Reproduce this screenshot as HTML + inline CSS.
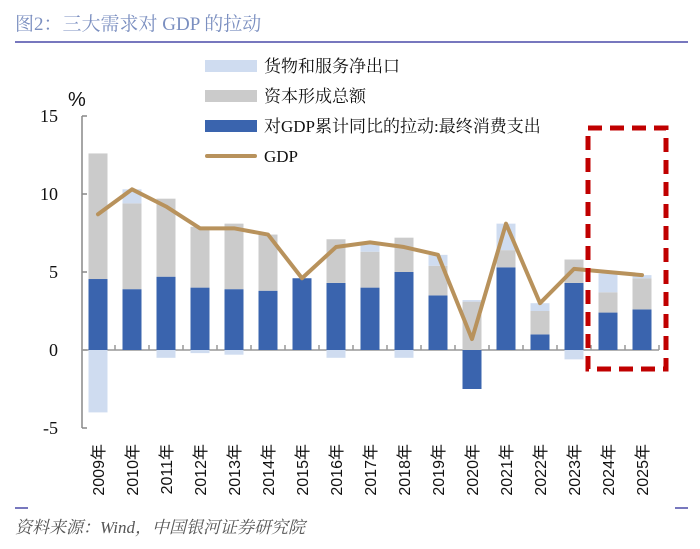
<!DOCTYPE html>
<html><head><meta charset="utf-8"><style>
body{margin:0;background:#fff;}
svg{display:block;}
</style></head><body>
<svg id="chart" width="700" height="549" viewBox="0 0 700 549" xmlns="http://www.w3.org/2000/svg">
<text x="15" y="30" font-family="'Liberation Serif','Noto Serif CJK SC',serif" font-size="19" fill="#7b8fc0">图2：三大需求对 GDP 的拉动</text>
<line x1="15" y1="42" x2="688" y2="42" stroke="#4a4aa8" stroke-width="1.5"/>
<g id="legend" font-family="'Liberation Serif','Noto Serif CJK SC',serif" font-size="17" fill="#111">
<rect x="205" y="60" width="52" height="12" fill="#cfdcf0"/>
<text x="264" y="72">货物和服务净出口</text>
<rect x="205" y="90" width="52" height="12" fill="#cbcbcb"/>
<text x="264" y="102">资本形成总额</text>
<rect x="205" y="120" width="52" height="12" fill="#3a64ae"/>
<text x="264" y="132">对GDP累计同比的拉动:最终消费支出</text>
<line x1="207" y1="156" x2="255" y2="156" stroke="#b8925c" stroke-width="4" stroke-linecap="round"/>
<text x="264" y="162">GDP</text>
</g>
<g id="axes" font-family="'Liberation Serif',serif" font-size="18" fill="#111"></g>
<g id="bars"></g>
<g id="line"></g>
<rect x="588" y="128" width="78" height="241" fill="none" stroke="#c00000" stroke-width="5" stroke-dasharray="14 8"/>
<line x1="15" y1="508" x2="28" y2="508" stroke="#4a4aa8" stroke-width="1.5"/>
<line x1="675" y1="508" x2="688" y2="508" stroke="#4a4aa8" stroke-width="1.5"/>
<text x="15" y="533" font-family="'Liberation Serif','Noto Serif CJK SC',serif" font-style="italic" font-size="17" fill="#555">资料来源：Wind，中国银河证券研究院</text>
</svg>
<script>
const years=["2009年","2010年","2011年","2012年","2013年","2014年","2015年","2016年","2017年","2018年","2019年","2020年","2021年","2022年","2023年","2024年","2025年"];
const consumption=[4.55,3.9,4.7,4.0,3.9,3.8,4.6,4.3,4.0,5.0,3.5,-2.5,5.3,1.0,4.3,2.4,2.6];
const capital=[8.05,5.5,5.0,3.9,4.2,3.6,0,2.8,2.3,2.2,1.9,3.1,1.1,1.5,1.5,1.3,2.0];
const netExports=[-4.0,0.9,-0.5,-0.2,-0.3,0,0,-0.5,0.6,-0.5,0.7,0.1,1.7,0.5,-0.6,1.2,0.2];
const gdp=[8.7,10.3,9.2,7.8,7.8,7.4,4.6,6.6,6.9,6.6,6.1,0.7,8.1,3.0,5.2,5.0,4.8];
const yTicks=[-5,0,5,10,15];
const NS="http://www.w3.org/2000/svg";
const y0=350,yScale=15.6,x0=98,step=34.0,bw=19;
const Y=v=>y0-v*yScale, X=i=>x0+i*step;
function mk(tag,attrs,parent){const e=document.createElementNS(NS,tag);for(const k in attrs)e.setAttribute(k,attrs[k]);parent.appendChild(e);return e;}
const axes=document.getElementById('axes'),bars=document.getElementById('bars'),lineG=document.getElementById('line');
let ya=mk('line',{x1:82,y1:Y(15),x2:82,y2:Y(-5),stroke:'#888','stroke-width':1.5},axes);


let pct=mk('text',{x:68,y:106,'font-size':20,'font-family':"'Liberation Sans',sans-serif"},axes);pct.textContent='%';


yTicks.forEach(t=>{
 let tk=mk('line',{x1:82,y1:Y(t),x2:87,y2:Y(t),stroke:'#888','stroke-width':1.5},axes);
 
 
 let lb=mk('text',{x:58,y:Y(t)+6,'text-anchor':'end'},axes);lb.textContent=t;
 
 
});
let xa=mk('line',{x1:82,y1:y0,x2:659,y2:y0,stroke:'#999','stroke-width':1.5},axes);


years.forEach((yr,i)=>{
 let tk=mk('line',{x1:X(i)+step/2,y1:y0,x2:X(i)+step/2,y2:y0-5,stroke:'#999','stroke-width':1.5},axes);
 
 
 let lb=mk('text',{x:0,y:0,'text-anchor':'end',transform:`translate(${X(i)+6},444) rotate(-90)`,'font-family':"'Liberation Sans','Noto Sans CJK SC',sans-serif",'font-size':16},axes);
 lb.textContent=yr;
 
 
 let pos=0,neg=0;
 [[consumption[i],'#3a64ae','bar-consumption'],[capital[i],'#cbcbcb','bar-capital'],[netExports[i],'#cfdcf0','bar-net-exports']].forEach(([v,c,n])=>{
  if(v===0)return;
  let a,b;
  if(v>0){a=pos;b=pos+v;pos=b;}else{a=neg;b=neg+v;neg=b;}
  let r=mk('rect',{x:X(i)-bw/2,y:Math.min(Y(a),Y(b)),width:bw,height:Math.abs(Y(a)-Y(b)),fill:c},bars);
  
  
 });
});
let pl=mk('polyline',{points:gdp.map((v,i)=>X(i)+','+Y(v)).join(' '),fill:'none',stroke:'#b8925c','stroke-width':4,'stroke-linejoin':'round','stroke-linecap':'round'},lineG);


</script>
</body></html>
